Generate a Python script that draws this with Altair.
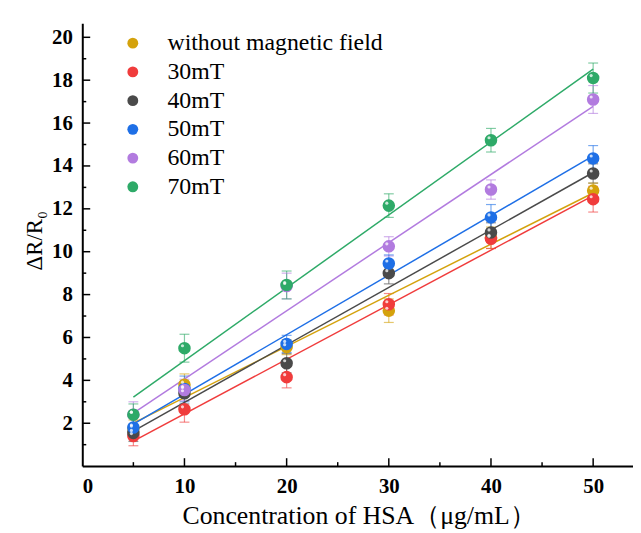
import altair as alt
import pandas as pd

# ---- data ----
conc = [5, 10, 20, 30, 40, 50]
series_names = ["without magnetic field", "30mT", "40mT", "50mT", "60mT", "70mT"]
series_colors = ["#D4A20C", "#F03C3C", "#4A4A4A", "#1E6FE6", "#B27BDF", "#2EAA68"]

v_none = [1.75, 3.8, 5.55, 7.25, 10.65, 12.85]
e_none = [0.4, 0.5, 0.35, 0.55, 0.5, 0.35]
v_30 = [1.4, 2.65, 4.15, 7.55, 10.6, 12.45]
e_30 = [0.45, 0.6, 0.5, 0.5, 0.45, 0.6]
v_40 = [1.55, 3.4, 4.8, 9.0, 10.9, 13.65]
e_40 = [0.4, 0.5, 0.45, 0.5, 0.45, 0.45]
v_50 = [1.8, 3.6, 5.7, 9.45, 11.6, 14.35]
e_50 = [0.5, 0.6, 0.4, 0.4, 0.6, 0.6]
v_60 = [2.4, 3.55, 8.4, 10.25, 12.9, 17.1]
e_60 = [0.6, 0.5, 0.6, 0.45, 0.45, 0.65]
v_70 = [2.4, 5.5, 8.45, 12.15, 15.2, 18.1]
e_70 = [0.5, 0.65, 0.65, 0.55, 0.55, 0.7]

x_major = [0, 10, 20, 30, 40, 50]
x_minor = [5, 15, 25, 35, 45]
y_major = [2, 4, 6, 8, 10, 12, 14, 16, 18, 20]
y_minor = [1, 3, 5, 7, 9, 11, 13, 15, 17, 19]

values = [v_none, v_30, v_40, v_50, v_60, v_70]
errors = [e_none, e_30, e_40, e_50, e_60, e_70]

rows = []
for name, vs, es in zip(series_names, values, errors):
    for x, v, e in zip(conc, vs, es):
        rows.append({"series": name, "x": x, "y": v, "err": e})
df = pd.DataFrame(rows)

W, H = 556, 447
FONT = "Liberation Serif"

xscale = alt.Scale(domain=[0, 53.9], nice=False, zero=False)
yscale = alt.Scale(domain=[0, 20.65], nice=False, zero=False)
cscale = alt.Scale(domain=series_names, range=series_colors)

X = alt.X("x:Q", scale=xscale,
          axis=alt.Axis(values=x_major, title="Concentration of HSA（μg/mL）",
                        titleX=279, titleY=37, titleFontSize=26,
                        titleFontWeight="normal", labelPadding=10))
Y = alt.Y("y:Q", scale=yscale,
          axis=alt.Axis(values=y_major, title="ΔR/R₀",
                        titleX=-36, titleY=219, titleFontSize=23,
                        titleFontWeight="normal", labelPadding=10))

C_none = alt.Color("series:N", scale=cscale, legend=None)

base = alt.Chart(df)

errs = base.transform_calculate(
    lo="datum.y - datum.err", hi="datum.y + datum.err"
)
err_rule = errs.mark_rule(strokeWidth=1.2, opacity=0.6).encode(
    x=X, y=alt.Y("lo:Q", scale=yscale), y2="hi:Q", color=C_none)
err_cap_lo = errs.mark_tick(orient="horizontal", size=10, thickness=1.2, opacity=0.6).encode(
    x=X, y=alt.Y("lo:Q", scale=yscale), color=C_none)
err_cap_hi = errs.mark_tick(orient="horizontal", size=10, thickness=1.2, opacity=0.6).encode(
    x=X, y=alt.Y("hi:Q", scale=yscale), color=C_none)

fit = base.transform_regression(
    "x", "y", groupby=["series"], extent=[5, 50]
).mark_line(strokeWidth=1.5).encode(x=X, y=Y, color=C_none)

pts = base.mark_point(filled=True, size=160, opacity=1, shape="circle").encode(
    x=X, y=Y,
    color=alt.Color("series:N", scale=cscale,
                    legend=alt.Legend(title=None, orient="none", legendX=39, legendY=8,
                                      labelFont=FONT, labelFontSize=24, labelColor="black",
                                      labelLimit=0,
                                      symbolSize=120, symbolType="circle",
                                      symbolStrokeWidth=0, rowPadding=5,
                                      labelOffset=23, padding=0)))
hl = base.mark_point(filled=True, size=10, color="white", opacity=0.75,
                     xOffset=-2, yOffset=-2.5, shape="circle").encode(x=X, y=Y)

def tickrules(vals, axis, length):
    d = pd.DataFrame({"v": vals})
    c = alt.Chart(d).mark_rule(color="black", strokeWidth=1.5)
    if axis == "y":
        return c.encode(y=alt.Y("v:Q", scale=yscale), x=alt.value(0), x2=alt.value(length))
    return c.encode(x=alt.X("v:Q", scale=xscale), y=alt.value(H), y2=alt.value(H - length))

ticks = [
    tickrules(y_major, "y", 8), tickrules(y_minor, "y", 4),
    tickrules(x_major[1:], "x", 8), tickrules(x_minor, "x", 4),
]

chart = alt.layer(err_rule, err_cap_lo, err_cap_hi, fit, pts, hl, *ticks).resolve_legend(
    color="independent"
).properties(
    width=W, height=H,
    autosize=alt.AutoSizeParams(type="none"),
    padding={"left": 75, "top": 13, "right": 0, "bottom": 64},
).configure_view(stroke=None).configure_axis(
    labelFont=FONT, labelFontWeight="bold", labelFontSize=21, labelColor="black",
    titleFont=FONT, titleColor="black", domainColor="black", domainWidth=2,
    ticks=False, grid=False,
).configure_text(font=FONT)

chart.save("out.html", embed_options={"renderer": "svg", "actions": False})
